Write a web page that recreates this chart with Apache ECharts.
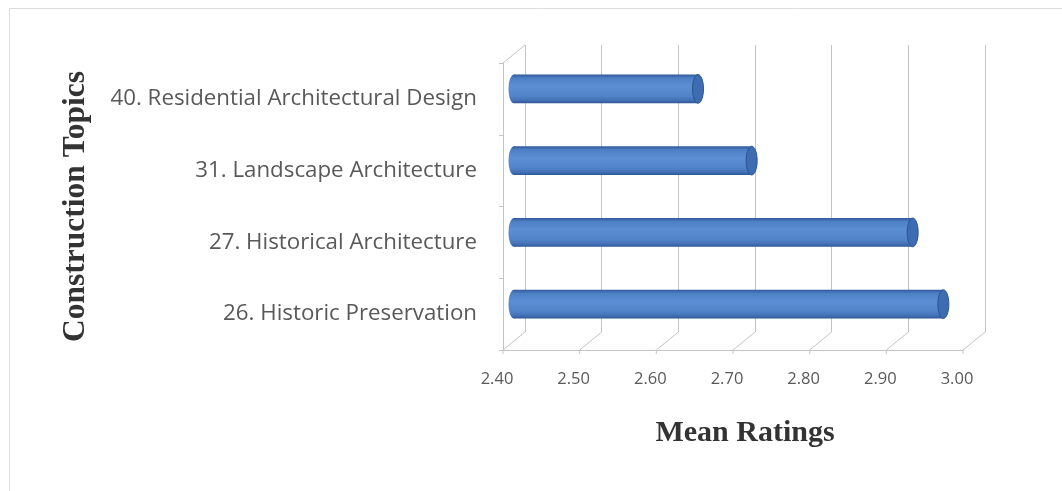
<!DOCTYPE html>
<html>
<head>
<meta charset="utf-8">
<script src="https://cdn.jsdelivr.net/npm/echarts@6/dist/echarts.min.js"></script>
<style>
html,body{margin:0;padding:0;background:#fff;}
#chart{width:1062px;height:491px;}
</style>
</head>
<body>
<div id="chart"></div>
<script>
// ---- data ----
const categories = [
  '26. Historic Preservation',
  '27. Historical Architecture',
  '31. Landscape Architecture',
  '40. Residential Architectural Design'
];
const meanRatings = [2.96, 2.92, 2.71, 2.64];
const xTicks = [2.40, 2.50, 2.60, 2.70, 2.80, 2.90, 3.00];
const xAxisTitle = 'Mean Ratings';
const yAxisTitle = 'Construction Topics';

// ---- styling constants ----
const DEPTH_X = 22, DEPTH_Y = -18;   // 3D depth offset of back wall
const gridColor = '#c4c4c4';
const labelColor = '#595959';

const chart = echarts.init(document.getElementById('chart'), null, {renderer: 'canvas'});

const xMin = xTicks[0], xMax = xTicks[xTicks.length - 1];

const option = {
  backgroundColor: '#ffffff',
  animation: false,
  title: {
    text: xAxisTitle,
    left: 740, top: 413,
    textAlign: 'center',
    textStyle: {fontFamily: 'Liberation Serif', fontWeight: 'bold', fontSize: 30, color: '#333333'}
  },
  graphic: [{
    type: 'rect', silent: true, z: -10,
    shape: {x: 9.5, y: 8.5, width: 1060, height: 500},
    style: {fill: 'none', stroke: '#dcdcdc', lineWidth: 1}
  }],
  grid: [
    {left: 503, top: 63, width: 460, height: 287},                    // front plane
    {left: 503 + DEPTH_X, top: 63 + DEPTH_Y, width: 460, height: 287} // back wall
  ],
  xAxis: [{
    gridIndex: 0, type: 'value', min: xMin, max: xMax, interval: 0.1,
    axisLine: {show: true, lineStyle: {color: gridColor}},
    axisTick: {show: false},
    splitLine: {show: false},
    axisLabel: {
      color: labelColor, fontFamily: 'Open Sans', fontSize: 16.5, margin: 21,
      padding: [0, 12, 0, 0],
      formatter: v => v.toFixed(2)
    }
  }, {
    gridIndex: 1, type: 'value', min: xMin, max: xMax, interval: 0.1,
    axisLine: {show: false}, axisTick: {show: false}, axisLabel: {show: false},
    splitLine: {show: true, lineStyle: {color: gridColor, width: 1}}
  }],
  yAxis: [{
    gridIndex: 0, type: 'category', data: categories,
    axisLine: {show: true, lineStyle: {color: gridColor}},
    axisTick: {show: true, length: 4, lineStyle: {color: gridColor}},
    axisLabel: {color: labelColor, fontFamily: 'Open Sans', fontSize: 22.3, margin: 26, padding: [3, 0, 0, 0]},
    name: yAxisTitle, nameLocation: 'middle', nameGap: 411, nameRotate: 90,
    nameTextStyle: {fontFamily: 'Liberation Serif', fontWeight: 'bold', fontSize: 31.5, color: '#333333'}
  }, {
    gridIndex: 1, type: 'category', data: categories,
    axisLine: {show: false}, axisTick: {show: false}, axisLabel: {show: false}, splitLine: {show: false}
  }],
  series: [
    // floor diagonals + top-left depth edge
    {
      type: 'custom', xAxisIndex: 0, yAxisIndex: 0, silent: true, z: 1,
      data: xTicks.map(v => [v]),
      encode: {x: 0},
      renderItem: function (params, api) {
        const cs = params.coordSys;
        const x = api.coord([api.value(0), 0])[0];
        const floorY = cs.y + cs.height;
        const children = [{
          type: 'line',
          shape: {x1: x, y1: floorY, x2: x + DEPTH_X, y2: floorY + DEPTH_Y},
          style: {stroke: gridColor, lineWidth: 1}
        }, {
          type: 'line',
          shape: {x1: x, y1: floorY, x2: x, y2: floorY + 4},
          style: {stroke: gridColor, lineWidth: 1}
        }];
        if (params.dataIndex === 0) {
          children.push({
            type: 'line',
            shape: {x1: x, y1: cs.y, x2: x + DEPTH_X, y2: cs.y + DEPTH_Y},
            style: {stroke: gridColor, lineWidth: 1}
          });
        }
        return {type: 'group', children: children};
      }
    },
    // cylinder bars
    {
      type: 'custom', xAxisIndex: 0, yAxisIndex: 0, z: 5,
      data: meanRatings.map((v, i) => [v, i]),
      encode: {x: 0, y: 1},
      renderItem: function (params, api) {
        const idx = api.value(1);
        const start = api.coord([xMin, idx]);
        const end = api.coord([api.value(0), idx]);
        const bandH = api.size([0, 1])[1];
        const h = bandH * 0.4;
        const dx = DEPTH_X / 2, dy = DEPTH_Y / 2;
        const x0 = start[0] + dx, x1 = end[0] + dx, cy = start[1] + dy - 1;
        const rx = 5.5;
        const grad = new echarts.graphic.LinearGradient(0, 0, 0, 1, [
          {offset: 0, color: '#30599a'},
          {offset: 0.12, color: '#4d7fc4'},
          {offset: 0.4, color: '#5b8fd4'},
          {offset: 0.75, color: '#5283c9'},
          {offset: 0.92, color: '#416eb2'},
          {offset: 1, color: '#2d5592'}
        ]);
        return {
          type: 'group',
          children: [{
            type: 'ellipse',
            shape: {cx: x0, cy: cy, rx: rx, ry: h / 2},
            style: {fill: grad}
          }, {
            type: 'rect',
            shape: {x: x0, y: cy - h / 2, width: x1 - x0, height: h},
            style: {fill: grad}
          }, {
            type: 'ellipse',
            shape: {cx: x1, cy: cy, rx: rx, ry: h / 2},
            style: {fill: '#3e6cb3', stroke: '#2c5590', lineWidth: 1}
          }]
        };
      }
    }
  ]
};
chart.setOption(option);
</script>
</body>
</html>
